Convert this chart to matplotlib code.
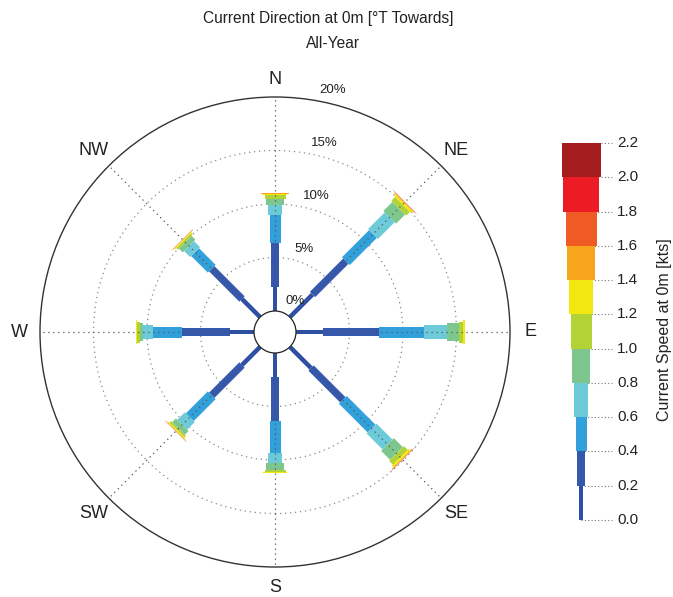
import matplotlib
matplotlib.use('Agg')
import matplotlib.pyplot as plt
from matplotlib.patches import Polygon, Circle
import numpy as np

plt.rcParams['font.family'] = ['Liberation Sans', 'DejaVu Sans']

# current rose data: percent of time per direction (towards) and speed bin
directions = ['N', 'NE', 'E', 'SE', 'S', 'SW', 'W', 'NW']
angles = [0, 45, 90, 135, 180, 225, 270, 315]
speed_edges = [0.0, 0.2, 0.4, 0.6, 0.8, 1.0, 1.2, 1.4, 1.6, 1.8, 2.0, 2.2]
speed_colors = ['#2a4fa8', '#3358ad', '#32a0da', '#6ccad9', '#7dc78e', '#b2d235',
                '#f2e70f', '#f7a51c', '#f05a24', '#ec1c24', '#a51c1f']
bar_widths = [4.5, 7.5, 11, 14, 18, 21, 24, 28, 31, 36, 39]  # px, grows with speed

pct = {
    'N':  [2.2, 4.2, 2.6, 0.9, 0.6, 0.3, 0.15, 0.05, 0.02, 0.0, 0.0],
    'NE': [3.0, 4.4, 3.6, 2.2, 1.2, 0.5, 0.2, 0.08, 0.03, 0.01, 0.0],
    'E':  [2.5, 5.3, 4.2, 2.1, 1.1, 0.4, 0.15, 0.06, 0.02, 0.01, 0.0],
    'SE': [2.8, 4.2, 3.8, 2.1, 1.2, 0.5, 0.2, 0.08, 0.03, 0.01, 0.0],
    'S':  [2.2, 4.2, 2.9, 1.0, 0.6, 0.2, 0.08, 0.03, 0.01, 0.0, 0.0],
    'SW': [2.4, 4.0, 2.9, 1.0, 0.5, 0.2, 0.1, 0.05, 0.02, 0.0, 0.0],
    'W':  [2.2, 4.5, 2.7, 1.0, 0.3, 0.2, 0.1, 0.05, 0.02, 0.0, 0.0],
    'NW': [2.4, 4.0, 2.2, 0.8, 0.5, 0.2, 0.1, 0.05, 0.02, 0.0, 0.0],
}
ring_pcts = [0, 5, 10, 15, 20]

W, H = 673, 597
fig = plt.figure(figsize=(W / 100, H / 100), dpi=100)

# rose axes in "percent" units; 10.7 px per percent, centre at (275, 332) px
px = 10.7
hole = 21 / px
L = 24.0
cx, cy = 275, H - 332
side = 2 * L * px
ax = fig.add_axes([(cx - side / 2) / W, (cy - side / 2) / H, side / W, side / H])
ax.set_xlim(-L, L)
ax.set_ylim(-L, L)
ax.set_aspect('equal')
ax.axis('off')

outer = hole + ring_pcts[-1]
ax.add_patch(Circle((0, 0), outer, fill=False, ec='#333333', lw=1.0, zorder=1))
for p in ring_pcts[1:-1]:
    ax.add_patch(Circle((0, 0), hole + p, fill=False, ec='#888888', lw=0.9,
                        ls=(0, (1, 3)), zorder=1))
for a in angles:
    t = np.deg2rad(a)
    ax.plot([hole * np.sin(t), outer * np.sin(t)], [hole * np.cos(t), outer * np.cos(t)],
            color='#555555', lw=0.9, ls=(0, (1, 3)), zorder=4)

for d, a in zip(directions, angles):
    t = np.deg2rad(a)
    u = np.array([np.sin(t), np.cos(t)])
    n = np.array([np.cos(t), -np.sin(t)])
    r0 = hole
    for val, col, wpx in zip(pct[d], speed_colors, bar_widths):
        if val <= 0:
            continue
        r1 = r0 + val
        hw = wpx / px / 2
        pts = [r0 * u + hw * n, r1 * u + hw * n, r1 * u - hw * n, r0 * u - hw * n]
        ax.add_patch(Polygon(pts, closed=True, fc=col, ec='none', zorder=3))
        r0 = r1

ax.add_patch(Circle((0, 0), hole, fc='white', ec='#222222', lw=0.9, zorder=5))

# compass labels
lab_r = 256 / px
for d, a in zip(directions, angles):
    t = np.deg2rad(a)
    ax.text(lab_r * np.sin(t), lab_r * np.cos(t) - (3 / px if a == 0 else 0), d,
            ha='center', va='center', fontsize=13, color='#222222')

# ring labels
for p in ring_pcts:
    r = hole + p + 10 / px
    t = np.deg2rad(9)
    ax.text(r * np.sin(t) + 6 / px, r * np.cos(t), f'{p}%', ha='left', va='center',
            fontsize=9.5, color='#222222', zorder=6)

fig.text(328 / W, 1 - 18 / H, 'Current Direction at 0m [\u00b0T Towards]', ha='center',
         va='center', fontsize=11.2, color='#222222')
fig.text(333 / W, 1 - 43 / H, 'All-Year', ha='center', va='center', fontsize=11.2,
         color='#222222')

# speed legend
lx0, lx1 = 550, 615
ly0, ly1 = H - 520, H - 143
lax = fig.add_axes([lx0 / W, ly0 / H, (lx1 - lx0) / W, (ly1 - ly0) / H])
lax.set_xlim(0, lx1 - lx0)
lax.set_ylim(speed_edges[0], speed_edges[-1])
lax.axis('off')
xc = 581 - lx0
for lo, hi, col, wpx in zip(speed_edges[:-1], speed_edges[1:], speed_colors, bar_widths):
    lax.bar(xc, hi - lo, bottom=lo, width=wpx, color=col, edgecolor='none', zorder=3)
for e in speed_edges:
    lax.plot([xc, 62], [e, e], color='#777777', lw=0.8, ls=(0, (1, 2)), zorder=1,
             clip_on=False)
    lax.text(67, e, f'{e:.1f}', ha='left', va='center', fontsize=11, color='#222222')
fig.text(664 / W, 1 - 330 / H, 'Current Speed at 0m [kts]', rotation=90, ha='center',
         va='center', fontsize=11.5, color='#222222')

fig.savefig('out.png', dpi=100)
